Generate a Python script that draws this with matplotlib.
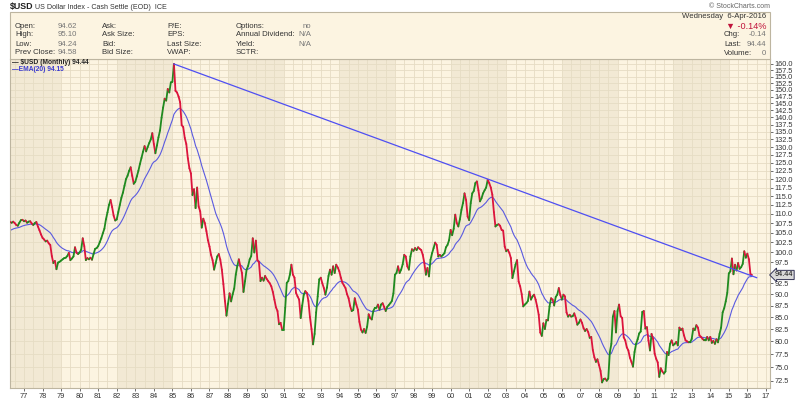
import numpy as np
import pandas as pd
import matplotlib
matplotlib.use("Agg")
import matplotlib.pyplot as plt
import matplotlib.transforms as mtransforms
from matplotlib.collections import LineCollection
from matplotlib.patches import Rectangle
from matplotlib.ticker import FixedLocator, FixedFormatter, NullLocator

plt.rcParams['font.family'] = ['Liberation Sans', 'DejaVu Sans']

# Monthly closes of $USD (first point: April 1976)
start_year, start_month = 1976, 4
close_1970s = [
    107.8, 107.6, 107.9, 107.5, 107.0, 106.8, 107.6, 108.3, 108.4,                      # 1976
    108.0, 108.2, 107.6, 107.9, 108.0, 107.4, 107.0, 107.5, 107.8, 106.6, 105.6, 104.5,  # 1977
    103.6, 103.2, 102.7, 102.9, 102.2, 101.8, 99.0, 97.3, 97.8, 95.8, 97.4, 97.6,        # 1978
    97.9, 98.2, 98.5, 98.6, 99.0, 99.8, 98.0, 98.4, 98.9, 101.2, 99.8, 99.5,             # 1979
]
close_1980s = [
    99.9, 100.6, 103.5, 101.5, 98.0, 98.5, 98.2, 98.6, 98.1, 99.5, 100.8, 101.0,
    101.5, 102.5, 103.5, 104.8, 106.0, 108.5, 110.4, 112.5, 113.9, 111.9, 109.5, 108.2,
    108.5, 110.5, 112.5, 114.5, 116.0, 118.0, 120.0, 121.0, 122.5, 123.6, 121.0, 118.6,
    119.2, 120.8, 122.5, 124.6, 126.5, 128.5, 130.3, 128.6, 130.0, 131.3, 132.5, 134.6,
    131.0, 128.0, 130.5, 133.2, 135.5, 139.9, 143.5, 146.7, 146.0, 150.3, 149.0, 152.8,
    153.0, 160.0, 149.6, 149.0, 147.5, 145.4, 137.3, 136.7, 133.0, 131.0, 126.4, 123.3,
    121.7, 115.3, 117.0, 111.6, 117.5, 112.0, 110.7, 106.3, 108.7, 107.5, 105.4, 103.0,
    101.4, 99.3, 98.0, 95.7, 97.3, 98.9, 99.5, 98.1, 95.7, 92.3, 88.5, 85.3,
    87.9, 90.2, 88.4, 90.0, 91.3, 94.5, 96.6, 98.2, 96.5, 94.9, 90.5, 93.0,
    95.7, 96.6, 98.2, 99.0, 103.5, 99.9, 102.9, 98.0, 97.5, 93.0, 93.8, 93.1,
]
close_1990s = [
    94.2, 93.5, 93.0, 92.5, 91.8, 90.5, 88.8, 87.1, 86.3, 83.5, 83.8, 82.4,
    82.4, 87.0, 92.6, 93.0, 94.5, 96.9, 94.5, 93.8, 90.3, 89.5, 88.8, 84.8,
    87.5, 89.9, 90.7, 90.3, 88.5, 85.0, 82.5, 79.4, 81.5, 86.0, 89.5, 93.4,
    93.8, 92.5, 91.4, 89.9, 91.5, 94.2, 95.7, 94.5, 96.5, 94.9, 96.9, 96.2,
    95.3, 93.8, 92.6, 92.0, 91.4, 90.0, 89.1, 87.4, 86.3, 86.5, 89.1, 87.7,
    86.6, 84.0, 82.4, 81.8, 82.5, 81.7, 83.0, 85.6, 84.8, 84.5, 86.3, 87.0,
    87.0, 87.7, 86.6, 87.7, 88.0, 87.2, 86.3, 87.2, 87.6, 88.0, 88.5, 90.2,
    94.5, 94.9, 96.5, 94.9, 95.7, 97.0, 99.3, 98.9, 96.5, 95.7, 98.9, 100.7,
    100.3, 101.0, 100.5, 101.2, 100.8, 100.5, 99.3, 97.3, 94.5, 96.1, 94.1, 98.1,
    99.7, 101.0, 102.4, 101.8, 98.9, 99.3, 98.9, 99.3, 99.7, 101.2, 101.8, 103.0,
]
close_2000s = [
    105.7, 104.3, 106.0, 109.8, 107.5, 106.6, 108.5, 111.1, 113.0, 115.8, 113.9, 109.3,
    108.3, 113.0, 115.8, 116.5, 118.8, 119.3, 116.7, 113.5, 114.4, 115.8, 116.7, 117.5,
    119.8, 118.8, 117.5, 115.4, 110.5, 106.6, 107.0, 107.2, 106.8, 105.7, 105.5, 101.4,
    100.2, 100.6, 99.8, 98.5, 93.7, 95.3, 96.9, 98.0, 92.9, 91.8, 90.0, 87.3,
    87.7, 88.0, 88.5, 90.6, 88.8, 89.5, 89.9, 88.8, 87.3, 85.5, 81.8, 81.1,
    83.7, 82.5, 84.4, 84.3, 87.3, 89.1, 88.8, 87.5, 89.4, 89.9, 91.4, 89.8,
    88.8, 89.9, 89.5, 86.0, 85.1, 85.5, 85.1, 85.2, 85.8, 84.8, 83.4, 83.8,
    84.5, 83.8, 82.7, 82.1, 82.5, 81.9, 80.7, 80.9, 78.3, 76.9, 76.0, 76.5,
    75.4, 74.3, 72.2, 72.8, 72.9, 72.5, 72.9, 77.8, 79.5, 85.1, 86.3, 81.8,
    86.3, 87.7, 85.2, 84.8, 80.8, 80.2, 78.8, 78.2, 76.8, 76.0, 75.1, 77.9,
]
close_2010s = [
    79.5, 80.4, 81.6, 82.0, 86.1, 86.3, 82.6, 82.9, 80.2, 78.2, 81.5, 80.5,
    77.6, 76.6, 75.9, 73.2, 74.8, 74.2, 73.8, 74.2, 77.9, 77.3, 79.5, 80.2,
    79.2, 79.5, 79.9, 79.2, 82.8, 82.3, 82.6, 81.2, 80.2, 80.0, 79.8, 79.8,
    80.5, 82.6, 82.3, 83.3, 82.8, 81.2, 80.9, 80.5, 80.2, 80.2, 80.9, 80.2,
    80.9, 79.7, 80.1, 79.5, 80.4, 79.8, 81.5, 82.8, 86.0, 86.9, 88.4, 90.3,
    94.8, 95.3, 98.4, 94.6, 96.9, 95.5, 97.3, 95.9, 96.3, 97.1, 100.2, 98.6,
    99.6, 98.2, 94.6, 94.44,
]
ema_seed = 105.3  # EMA level where the chart begins

# hand-drawn trend line from the 1985 top through the 2002 top
trend_x = [1985 + 1 / 12, 2016.5]
trend_y = [160.0, 93.8]

y_ticks = [72.5 + 2.5 * i for i in range(36)]
x_years = list(range(1977, 2018))
x_labels = [f"{y % 100:02d}" for y in x_years]
dark_band_starts = [1976, 1982, 1988, 1994, 2000, 2006, 2012]

header_rows = [
    ("Open:", "94.62", "Ask:", "P/E:", "Options:", "no"),
    ("High:", "95.10", "Ask Size:", "EPS:", "Annual Dividend:", "N/A"),
    ("Low:", "94.24", "Bid:", "Last Size:", "Yield:", "N/A"),
    ("Prev Close:", "94.58", "Bid Size:", "VWAP:", "SCTR:", ""),
]
right_rows = [("Chg:", "-0.14"), ("Last:", "94.44"), ("Volume:", "0")]

GREEN = "#1f8a1f"
RED = "#dc143c"
EMA_C = "#5a5ae0"
TREND_C = "#4f4ff2"
BG = "#fcf4e1"
BAND = "#f2e9d4"
GRID = "#e6dcc4"
EDGE = "#bdb5a0"
HDR = 5.6  # header font size

W, H = 800, 399


def fx(px):
    return px / W


def fy(py):
    return 1 - py / H


closes = close_1970s + close_1980s + close_1990s + close_2000s + close_2010s
closes = np.array(closes)
t = start_year + (start_month - 1) / 12 + np.arange(len(closes)) / 12
ema = pd.Series([ema_seed] + list(closes)).ewm(span=20, adjust=False).mean().values[1:]

fig = plt.figure(figsize=(W / 100, H / 100), dpi=100)
fig.patch.set_facecolor("white")

# header panel
fig.patches.append(Rectangle((fx(10), fy(59)), fx(770) - fx(10), fy(12) - fy(59),
                             transform=fig.transFigure, fc=BG, ec=EDGE, lw=0.8, zorder=0))

fig.text(fx(10), fy(7), "$USD", fontsize=6.4, fontweight="bold", va="center", color="#222")
fig.text(fx(35), fy(7.5), "US Dollar Index - Cash Settle (EOD)  ICE", fontsize=5.1,
         va="center", color="#333")
fig.text(fx(770), fy(6.5), "© StockCharts.com", fontsize=5.0, va="center", ha="right", color="#666")

row_y = [26, 35, 44, 53]
for (a, av, b, c, d, dv), yy in zip(header_rows, row_y):
    fig.text(fx(15), fy(yy), a, fontsize=HDR, va="center", color="#333")
    fig.text(fx(58), fy(yy), av, fontsize=HDR, va="center", color="#777")
    fig.text(fx(102), fy(yy), b, fontsize=HDR, va="center", color="#333")
    fig.text(fx(167), fy(yy), c, fontsize=HDR, va="center", color="#333")
    fig.text(fx(236), fy(yy), d, fontsize=HDR, va="center", color="#333")
    fig.text(fx(311), fy(yy), dv, fontsize=HDR, va="center", ha="right", color="#777")

fig.text(fx(766), fy(16.5), "Wednesday  6-Apr-2016", fontsize=HDR, va="center", ha="right", color="#333")
fig.text(fx(766), fy(26), "▼ -0.14%", fontsize=6.6, va="center", ha="right", color="#c0143c")
for (lab, val), yy in zip(right_rows, [35, 44.5, 53.3]):
    fig.text(fx(724), fy(yy), lab, fontsize=HDR, va="center", color="#333")
    fig.text(fx(766), fy(yy), val, fontsize=HDR, va="center", ha="right", color="#777")

# price panel
ax = fig.add_axes([fx(10), fy(388), fx(770) - fx(10), fy(59) - fy(388)])
ax.set_facecolor(BG)
ax.set_yscale("log")
ax.set_xlim(1976.245, 2017.22)
ax.set_ylim(71.2, 162.0)

for s in dark_band_starts:
    ax.axvspan(s, s + 3, color=BAND, lw=0, zorder=0)
for xv in np.arange(1976.5, 2017.3, 0.5):
    ax.axvline(xv, color=GRID, lw=0.6, zorder=0.5)
for yv in y_ticks:
    ax.axhline(yv, color=GRID, lw=0.6, zorder=0.5)

segs = np.stack([np.column_stack([t[:-1], closes[:-1]]),
                 np.column_stack([t[1:], closes[1:]])], axis=1)
seg_colors = np.where(np.diff(closes) >= 0, GREEN, RED)
ax.add_collection(LineCollection(segs, colors=seg_colors, linewidths=1.3,
                                 capstyle="round", joinstyle="round", zorder=3))
ax.plot(t, ema, color=EMA_C, lw=0.8, zorder=2)
ax.plot(trend_x, trend_y, color=TREND_C, lw=0.9, zorder=4)

# the last-value tag hides the 95.0 label, as on the original
y_tick_labels = ["" if v == 95.0 else f"{v:.1f}" for v in y_ticks]
ax.yaxis.tick_right()
ax.yaxis.set_major_locator(FixedLocator(y_ticks))
ax.yaxis.set_major_formatter(FixedFormatter(y_tick_labels))
ax.yaxis.set_minor_locator(NullLocator())
ax.xaxis.set_major_locator(FixedLocator(x_years))
ax.xaxis.set_major_formatter(FixedFormatter(x_labels))
ax.tick_params(axis="y", length=2, width=0.6, pad=1.5, labelsize=5.3,
               colors="#555", labelcolor="#333")
ax.tick_params(axis="x", length=2, width=0.6, pad=1.5, labelsize=5.3,
               colors="#555", labelcolor="#333")
for sp in ax.spines.values():
    sp.set_color(EDGE)
    sp.set_linewidth(0.8)

# legend lines in the top-left corner
fig.text(fx(12), fy(62.5), "— $USD (Monthly) 94.44", fontsize=4.8, va="center",
         color="#222", fontweight="bold")
fig.text(fx(12), fy(69.5), "—EMA(20) 94.15", fontsize=4.8, va="center",
         color="#3a3ad0", fontweight="bold")

# last value tag on the right axis
trans = mtransforms.blended_transform_factory(ax.transAxes, ax.transData)
ax.text(1.006, closes[-1], f"{closes[-1]:.2f}", transform=trans, va="center", ha="left",
        fontsize=5.3, color="#111", zorder=10, clip_on=False,
        bbox=dict(boxstyle="larrow,pad=0.15", fc="#d9d9d9", ec="#333355", lw=0.7))

fig.savefig("out.png", dpi=100)
